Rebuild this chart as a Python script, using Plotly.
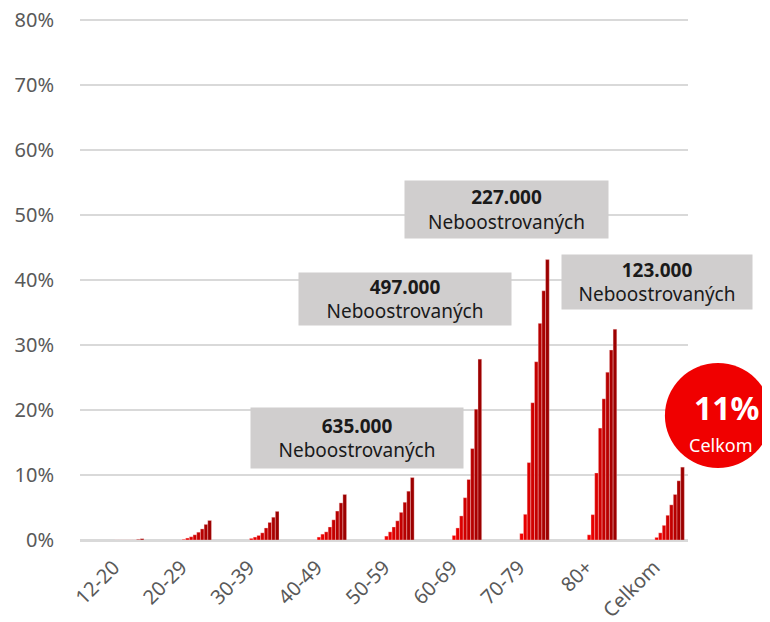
import plotly.graph_objects as go

categories = ["12-20", "20-29", "30-39", "40-49", "50-59", "60-69", "70-79", "80+", "Celkom"]

# 8 series (weekly snapshots), values in %
s1 = [0.0, 0.1, 0.25, 0.45, 0.6, 0.7, 1.0, 0.8, 0.4]
s2 = [0.0, 0.3, 0.45, 0.9, 1.25, 1.85, 3.95, 3.9, 1.1]
s3 = [0.0, 0.5, 0.7, 1.25, 2.0, 3.7, 11.9, 10.3, 2.25]
s4 = [0.0, 0.8, 1.1, 2.0, 2.95, 6.5, 21.1, 17.2, 3.8]
s5 = [0.0, 1.2, 1.85, 3.1, 4.25, 9.3, 27.4, 21.7, 5.4]
s6 = [0.0, 1.7, 2.7, 4.45, 5.8, 14.05, 33.3, 25.8, 7.0]
s7 = [0.1, 2.4, 3.5, 5.7, 7.5, 20.1, 38.3, 29.2, 9.1]
s8 = [0.2, 3.0, 4.4, 7.0, 9.6, 27.8, 43.1, 32.4, 11.2]
series = [s1, s2, s3, s4, s5, s6, s7, s8]

y_tickvals = [0, 10, 20, 30, 40, 50, 60, 70, 80]
y_ticktext = ["0%", "10%", "20%", "30%", "40%", "50%", "60%", "70%", "80%"]

colors = ["#f20000", "#e80000", "#dc0000", "#d00000", "#c40000", "#b70000", "#aa0000", "#9c0000"]

box_values = ["635.000", "497.000", "227.000", "123.000"]
box_label = "Neboostrovaných"
total_value = "11%"
total_label = "Celkom"

fig = go.Figure()
w = 0.0545
for i, (vals, col) in enumerate(zip(series, colors)):
    fig.add_trace(go.Bar(
        x=categories, y=vals, width=w, offset=0.01 + i * w,
        marker=dict(color=col, line=dict(color="rgba(255,220,220,0.7)", width=0.5)),
        showlegend=False, hoverinfo="skip",
    ))

grey = "#d0cece"
# positions: (paper x center, y center in %, width px, height px)
boxes = [
    (0.4556, 15.7, 212, 60),
    (0.5345, 37.1, 212, 52),
    (0.7015, 50.85, 203, 57),
    (0.949, 39.7, 190, 54),
]
for (bx, by, bw, bh), val in zip(boxes, box_values):
    fig.add_annotation(
        x=bx, y=by, xref="paper", yref="y", showarrow=False,
        xanchor="center", yanchor="middle",
        width=bw, height=bh, bgcolor=grey, borderpad=0,
        text=f"<b>{val}</b><br>{box_label}",
        font=dict(family="Noto Sans", size=19, color="#1a1a1a"),
        align="center", valign="middle",
    )

# red circle (paper x, data y)
fig.add_shape(type="circle", xref="paper", yref="y",
              x0=0.962, x1=1.1365, y0=11.08, y1=27.2,
              fillcolor="#f00000", line=dict(width=0), layer="above")
fig.add_annotation(x=1.0625, y=20.3, xref="paper", yref="y", showarrow=False,
                   xanchor="center", yanchor="middle", borderpad=0,
                   text=f"<b>{total_value}</b>",
                   font=dict(family="Noto Sans", size=32, color="white"))
fig.add_annotation(x=1.054, y=14.6, xref="paper", yref="y", showarrow=False,
                   xanchor="center", yanchor="middle", borderpad=0,
                   text=total_label,
                   font=dict(family="Noto Sans", size=18, color="white"))

fig.update_layout(
    width=762, height=614,
    margin=dict(l=72, r=82, t=5, b=82),
    paper_bgcolor="white", plot_bgcolor="white",
    barmode="overlay",
    font=dict(family="Noto Sans", color="#595959"),
)
fig.update_xaxes(type="category", tickangle=-45, tickfont=dict(size=20, color="#595959"),
                 showgrid=False, showline=True, linecolor="#d9d9d9", linewidth=1.5,
                 ticks="", range=[-0.5, 8.5], automargin=False, ticklabelstandoff=6)
fig.update_yaxes(range=[0, 81], tickmode="array", tickvals=y_tickvals, ticktext=y_ticktext,
                 tickfont=dict(size=20, color="#595959"),
                 showgrid=True, gridcolor="#d9d9d9", gridwidth=1.5, zeroline=True,
                 zerolinecolor="#d9d9d9", zerolinewidth=1.5, ticks="", ticklabelstandoff=25,
                 automargin=False, ticklabeloverflow="allow")

fig.write_html("out.html")
